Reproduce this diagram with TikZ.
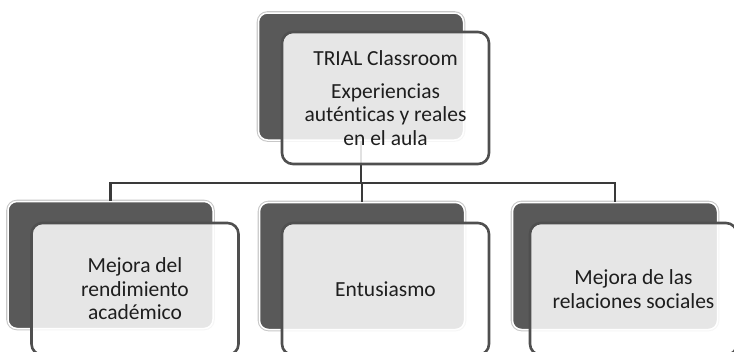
\documentclass[tikz,border=0pt]{standalone}
\usepackage{fontspec}
\setmainfont{Carlito}[Ligatures=NoCommon]
\begin{document}
\begin{tikzpicture}[x=1pt,y=-1pt,
  darkbox/.style={rectangle, rounded corners=9pt, minimum width=205pt, minimum height=127pt,
    fill=darkfill, draw=white, line width=1.5pt, inner sep=0pt,
    preaction={draw=black!22, line width=3.6pt}},
  frontbox/.style={rectangle, rounded corners=11pt, minimum width=207pt, minimum height=132pt,
    fill=white, fill opacity=0.85, text opacity=1, draw=edgegray, draw opacity=1, line width=2.6pt,
    align=center, text=textgray, inner sep=2pt,
    font=\fontsize{21.5}{23.5}\selectfont},
  conn/.style={draw=conngray, line width=2.7pt}]
\definecolor{darkfill}{HTML}{595959}
\definecolor{edgegray}{HTML}{4F4F4F}
\definecolor{textgray}{HTML}{1E1E1E}
\definecolor{conngray}{HTML}{3A3A3A}
\useasboundingbox (0,0) rectangle (734,351);
% dark background boxes
\node[darkbox] (tdark) at (361,76.5) {};
\node[darkbox] (ldark) at (110.5,265) {};
\node[darkbox] (mdark) at (362,266) {};
\node[darkbox] (rdark) at (615,266) {};
% connectors
\coordinate (bus) at (0,183);
\draw[conn] (tdark.south) -- (tdark.south |- bus) -| (ldark.north);
\draw[conn] (tdark.south |- bus) -| (mdark.north);
\draw[conn] (tdark.south |- bus) -| (rdark.north);
% front boxes
\node[frontbox] (tfront) at (385.5,98) {TRIAL Classroom\\[9pt]Experiencias\\auténticas y reales\\en el aula};
\node[frontbox] (lfront) at (135,289) {Mejora del\\rendimiento\\académico};
\node[frontbox] (mfront) at (385.5,289) {Entusiasmo};
\node[frontbox] (rfront) at (633.5,289) {Mejora de las\\relaciones sociales};
\end{tikzpicture}
\end{document}
